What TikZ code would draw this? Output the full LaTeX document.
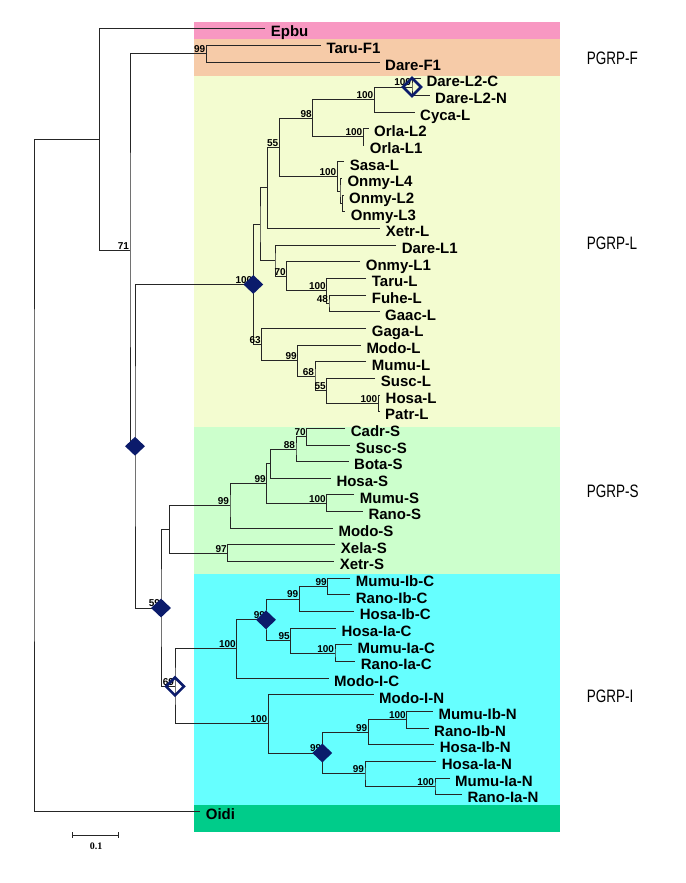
\documentclass[tikz,border=0pt]{standalone}
\usepackage{fontspec}
\setmainfont{Liberation Sans}
\newfontfamily\barfont{Liberation Serif}
\usetikzlibrary{shapes.geometric}
\definecolor{bandE}{HTML}{F898C2}
\definecolor{bandF}{HTML}{F6CBA8}
\definecolor{bandL}{HTML}{F3FCD0}
\definecolor{bandS}{HTML}{CCFFCC}
\definecolor{bandI}{HTML}{66FFFF}
\definecolor{bandO}{HTML}{00CC8A}
\definecolor{navy}{HTML}{0B1B6B}
\begin{document}
\begin{tikzpicture}[x=1pt,y=-1pt,
  br/.style={draw=black!85, line width=0.9pt},
  leaf/.style={anchor=west, inner xsep=5.5pt, inner ysep=0pt, yshift=-4.3pt,
    text height=11pt, text depth=3pt, font=\fontsize{15}{17}\selectfont\bfseries},
  bs/.style={anchor=south east, inner sep=0.8pt, font=\fontsize{10}{11}\selectfont\bfseries},
  fdia/.style={diamond, fill=navy, inner sep=0pt, minimum width=20pt, minimum height=19pt},
  odia/.style={diamond, draw=navy, line width=2.6pt, inner sep=0pt, minimum width=19pt, minimum height=19pt},
  grp/.style={anchor=west, inner sep=0pt, font=\fontsize{18}{20}\selectfont}
]
\useasboundingbox (0,0) rectangle (685,883);
% bands
\fill[bandE] (194,21.7) rectangle (560,39);
\fill[bandF] (194,39) rectangle (560,75.7);
\fill[bandL] (194,75.7) rectangle (560,426.7);
\fill[bandS] (194,426.7) rectangle (560,573.5);
\fill[bandI] (194,573.5) rectangle (560,805);
\fill[bandO] (194,805) rectangle (560,832.3);

% leaves
\foreach \i/\x/\t in {1/265.2/Epbu, 2/320.8/Taru-F1, 3/379.5/Dare-F1,
  4/420.8/Dare-L2-C, 5/429.5/Dare-L2-N, 6/414.5/Cyca-L, 7/368.5/Orla-L2,
  8/364.2/Orla-L1, 9/344.2/Sasa-L, 10/341.8/Onmy-L4, 11/343.5/Onmy-L2,
  12/345.2/Onmy-L3, 13/380.2/Xetr-L, 14/396.2/Dare-L1, 15/360.2/Onmy-L1,
  16/366.2/Taru-L, 17/366.2/Fuhe-L, 18/379.5/Gaac-L, 19/366.2/Gaga-L,
  20/360.8/Modo-L, 21/366.2/Mumu-L, 22/375.2/Susc-L, 23/380/Hosa-L,
  24/379.5/Patr-L, 25/345.2/Cadr-S, 26/350.2/Susc-S, 27/348.5/Bota-S,
  28/330.8/Hosa-S, 29/354.2/Mumu-S, 30/362.8/Rano-S, 31/332.8/Modo-S,
  32/335.2/Xela-S, 33/334.2/Xetr-S, 34/350.2/Mumu-Ib-C, 35/350.2/Rano-Ib-C,
  36/354.2/Hosa-Ib-C, 37/335.8/Hosa-Ia-C, 38/351.8/Mumu-Ia-C, 39/355.2/Rano-Ia-C,
  40/328.5/Modo-I-C, 41/373.5/Modo-I-N, 42/432.8/Mumu-Ib-N, 43/428.5/Rano-Ib-N,
  44/434.2/Hosa-Ib-N, 45/436.2/Hosa-Ia-N, 46/449.5/Mumu-Ia-N, 47/461.8/Rano-Ia-N,
  48/200.2/Oidi}{
  \coordinate (c\i) at (\x,{28.7+(\i-1)*16.65});
  \node[leaf] (t\i) at (c\i) {\t};
}

% internal nodes
\coordinate (nRoot) at (34,475.3);
\coordinate (nA) at (99.7,139.35);
\coordinate (nB) at (130,250);
\coordinate (nF) at (206.3,53.7);
\coordinate (nD2) at (135,446.25);
\coordinate (nDL) at (253.3,284.45);
\coordinate (nLa) at (260,224.4);
\coordinate (n55p) at (267.3,187.9);
\coordinate (n55) at (279.3,147.35);
\coordinate (n98) at (312.7,118.2);
\coordinate (n100a) at (374.3,99.47);
\coordinate (nDL2) at (412,86.98);
\coordinate (nOr) at (363.3,136.93);
\coordinate (nS1) at (337.3,176.5);
\coordinate (nS2) at (340,191.05);
\coordinate (nS3) at (342.7,203.5);
\coordinate (nLb) at (275,260.8);
\coordinate (n70) at (286.7,276.4);
\coordinate (n100t) at (326.7,290.9);
\coordinate (n48) at (329,303.4);
\coordinate (n63) at (261.7,344.55);
\coordinate (n99L) at (297.7,360.7);
\coordinate (n68) at (315,376.3);
\coordinate (n55b) at (326.7,390.8);
\coordinate (n100b) at (378.3,403.3);
\coordinate (n59) at (161,608);
\coordinate (nSr) at (169.3,529.5);
\coordinate (n99a) at (230,505.8);
\coordinate (n99b) at (266.7,483.4);
\coordinate (n270) at (270.7,463.7);
\coordinate (n88) at (296,449.1);
\coordinate (n70S) at (306.7,436.6);
\coordinate (n100S) at (326.7,503.2);
\coordinate (n97) at (227.7,553.2);
\coordinate (n69) at (175,686.4);
\coordinate (n100c) at (236.7,648.9);
\coordinate (n99d) at (266,619.8);
\coordinate (n99ic) at (299.3,599.0);
\coordinate (n99ib) at (327.7,586.5);
\coordinate (n95) at (290.7,640.6);
\coordinate (n100ia) at (335,653.1);
\coordinate (n100n) at (268.3,723.9);
\coordinate (n99e) at (322.3,753.0);
\coordinate (n99f) at (368.3,732.2);
\coordinate (n100ibn) at (406.7,719.7);
\coordinate (n99g) at (365,773.8);
\coordinate (n100ian) at (435,786.3);

% branches
\draw[br] (nA) -| (nRoot) |- (c48);
\draw[br] (c1) -| (nA) |- (nB);
\draw[br] (nF) -| (nB) |- (nD2);
\draw[br] (c2) -| (nF) |- (c3);
\draw[br] (nDL) -| (nD2) |- (n59);
\draw[br] (nLa) -| (nDL) |- (n63);
\draw[br] (n55p) -| (nLa) |- (nLb);
\draw[br] (n55) -| (n55p) |- (c13);
\draw[br] (n98) -| (n55) |- (nS1);
\draw[br] (n100a) -| (n98) |- (nOr);
\draw[br] (nDL2) -| (n100a) |- (c6);
\draw[br] (c4) -| (nDL2) |- (c5);
\draw[br] (c7) -| (nOr) |- (c8);
\draw[br] (c9) -| (nS1) |- (nS2);
\draw[br] (c10) -| (nS2) |- (nS3);
\draw[br] (c11) -| (nS3) |- (c12);
\draw[br] (c14) -| (nLb) |- (n70);
\draw[br] (c15) -| (n70) |- (n100t);
\draw[br] (c16) -| (n100t) |- (n48);
\draw[br] (c17) -| (n48) |- (c18);
\draw[br] (c19) -| (n63) |- (n99L);
\draw[br] (c20) -| (n99L) |- (n68);
\draw[br] (c21) -| (n68) |- (n55b);
\draw[br] (c22) -| (n55b) |- (n100b);
\draw[br] (c23) -| (n100b) |- (c24);
\draw[br] (nSr) -| (n59) |- (n69);
\draw[br] (n99a) -| (nSr) |- (n97);
\draw[br] (n99b) -| (n99a) |- (c31);
\draw[br] (n270) -| (n99b) |- (n100S);
\draw[br] (n88) -| (n270) |- (c28);
\draw[br] (n70S) -| (n88) |- (c27);
\draw[br] (c25) -| (n70S) |- (c26);
\draw[br] (c29) -| (n100S) |- (c30);
\draw[br] (c32) -| (n97) |- (c33);
\draw[br] (n100c) -| (n69) |- (n100n);
\draw[br] (n99d) -| (n100c) |- (c40);
\draw[br] (n99ic) -| (n99d) |- (n95);
\draw[br] (n99ib) -| (n99ic) |- (c36);
\draw[br] (c34) -| (n99ib) |- (c35);
\draw[br] (c37) -| (n95) |- (n100ia);
\draw[br] (c38) -| (n100ia) |- (c39);
\draw[br] (c41) -| (n100n) |- (n99e);
\draw[br] (n99f) -| (n99e) |- (n99g);
\draw[br] (n100ibn) -| (n99f) |- (c44);
\draw[br] (c42) -| (n100ibn) |- (c43);
\draw[br] (c45) -| (n99g) |- (n100ian);
\draw[br] (c46) -| (n100ian) |- (c47);

% bootstrap values
\foreach \n/\v in {nB/71, nF/99, nDL/100, n55/55, n98/98, n100a/100, nDL2/100,
  nOr/100, nS1/100, n70/70, n100t/100, n48/48, n63/63, n99L/99, n68/68,
  n55b/55, n100b/100, n59/59, n99a/99, n99b/99, n88/88, n70S/70, n100S/100,
  n97/97, n69/69, n100c/100, n99d/99, n99ic/99, n99ib/99, n95/95, n100ia/100,
  n100n/100, n99e/99, n99f/99, n100ibn/100, n99g/99, n100ian/100}{
  \node[bs] (b\n) at (\n) {\v};
}

% diamonds
\node[fdia] (dD2) at (nD2) {};
\node[fdia] (dDL) at (nDL) {};
\node[fdia] (d59) at (n59) {};
\node[fdia] (d99d) at (n99d) {};
\node[fdia] (d99e) at (n99e) {};
\node[odia] (dDL2) at (nDL2) {};
\node[odia] (d69) at (n69) {};

% group labels
\node[grp] (gF) at (586.7,58.3) {\scalebox{0.75}[1]{PGRP-F}};
\node[grp] (gL) at (586.7,243.3) {\scalebox{0.75}[1]{PGRP-L}};
\node[grp] (gS) at (586.7,491.7) {\scalebox{0.75}[1]{PGRP-S}};
\node[grp] (gI) at (586.7,696.7) {\scalebox{0.75}[1]{PGRP-I}};

% scale bar
\coordinate (sb1) at (72,835);
\coordinate (sb2) at (118,835);
\draw[black!85, line width=0.8pt] (sb1) -- (sb2);
\draw[black!85, line width=0.8pt] ([yshift=3pt]sb1) -- ([yshift=-3pt]sb1);
\draw[black!85, line width=0.8pt] ([yshift=3pt]sb2) -- ([yshift=-3pt]sb2);
\node[font=\barfont\fontsize{10}{11}\selectfont\bfseries, inner sep=0pt] (sbl) at (96,846) {0.1};
\end{tikzpicture}
\end{document}
